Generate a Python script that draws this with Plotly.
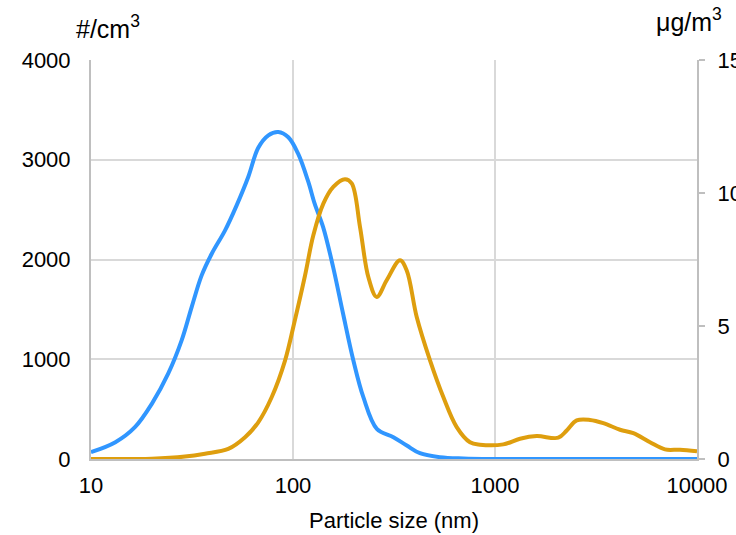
import plotly.graph_objects as go

# Number concentration (#/cm3) vs particle size (nm)
num_size = [10, 13.2, 16.5, 20, 24.1, 28.1, 31.5, 35.3, 39.6, 46.1, 52.6, 60.1, 67.3,
            75.5, 84.6, 94.8, 106, 119, 128, 141, 158, 177, 199, 223, 260, 314, 366,
            425, 534, 697, 1000, 2000, 5000, 10000]
num_conc = [68, 168, 319, 553, 855, 1189, 1523, 1841, 2058, 2292, 2543, 2830, 3120,
            3245, 3278, 3225, 3061, 2780, 2560, 2325, 1924, 1456, 988, 620, 303, 219, 135,
            58, 18, 5, 0, 0, 0, 0]

# Mass concentration (ug/m3) vs particle size (nm)
mass_size = [10, 20, 29.2, 36.7, 47.8, 57.9, 67.3, 78.5, 91.3, 102, 114.7, 126, 141.3,
             158.3, 180.9, 195.3, 214.7, 236, 259.7, 291, 338.6, 365.6, 409.7, 476.8,
             554.8, 646.3, 751.9, 842.6, 1099, 1330, 1609, 2058, 2265, 2538, 2953, 3437,
             4158, 4838, 5852, 6943, 8236, 10000]
mass_conc = [0, 0.01, 0.09, 0.2, 0.38, 0.82, 1.38, 2.33, 3.7, 5.2, 6.9, 8.4, 9.6,
             10.23, 10.52, 10.36, 8.72, 6.84, 6.09, 6.72, 7.47, 7.09, 5.34, 3.71,
             2.33, 1.2, 0.63, 0.54, 0.55, 0.76, 0.86, 0.8, 1.07, 1.45, 1.47, 1.35,
             1.1, 0.97, 0.63, 0.36, 0.35, 0.29]

x_ticks = [10, 100, 1000, 10000]
x_tick_labels = ["10", "100", "1000", "10000"]
left_ticks = [0, 1000, 2000, 3000, 4000]
right_ticks = [0, 5, 10, 15]

FONT = "Liberation Sans, Arial, sans-serif"
BLUE = "rgb(48,150,255)"
ORANGE = "rgb(222,158,14)"
GRID = "#d9d9d9"
AXIS = "#bfbfbf"

fig = go.Figure()
fig.add_trace(go.Scatter(x=num_size, y=num_conc, mode="lines",
                         line=dict(color=BLUE, width=4, shape="spline", smoothing=1.0),
                         yaxis="y", showlegend=False, hoverinfo="skip"))
fig.add_trace(go.Scatter(x=mass_size, y=mass_conc, mode="lines",
                         line=dict(color=ORANGE, width=4, shape="spline", smoothing=1.0),
                         yaxis="y2", showlegend=False, hoverinfo="skip"))

fig.update_layout(
    width=736, height=535,
    margin=dict(l=91, r=39, t=60, b=76),
    paper_bgcolor="white", plot_bgcolor="white",
    font=dict(family=FONT, size=22, color="#000000"),
    xaxis=dict(type="log", range=[1, 4], tickvals=x_ticks, ticktext=x_tick_labels,
               showgrid=True, gridcolor=GRID, gridwidth=1.5,
               showline=True, linecolor=AXIS, linewidth=2,
               ticks="", ticklabelstandoff=6, automargin=False,
               zeroline=False,
               title=dict(text="Particle size (nm)", font=dict(size=22), standoff=15)),
    yaxis=dict(range=[0, 4000], tickvals=left_ticks,
               showgrid=True, gridcolor=GRID, gridwidth=1.5,
               showline=True, linecolor=AXIS, linewidth=2, automargin=False,
               ticks="", ticklabelstandoff=14, zeroline=False),
    yaxis2=dict(range=[0, 15], tickvals=right_ticks, overlaying="y", side="right",
                showgrid=False, showline=True, linecolor=AXIS, linewidth=2,
                ticks="outside", ticklen=6, tickcolor=AXIS, tickwidth=1.5,
                ticklabelstandoff=8, zeroline=False, automargin=False),
    annotations=[
        dict(text="#/cm<sup>3</sup>", x=108, y=27, xref="paper", yref="paper",
             showarrow=False, font=dict(size=25)),
        dict(text="μg/m<sup>3</sup>", x=689, y=20, xref="paper", yref="paper",
             showarrow=False, font=dict(size=25)),
    ],
)

# convert annotation pixel positions to paper coordinates
pw, ph = 736 - 91 - 39, 535 - 60 - 76
for a in fig.layout.annotations:
    px, py = a.x, a.y
    a.x = (px - 91) / pw
    a.y = 1 - (py - 60) / ph
    a.xanchor = "center"
    a.yanchor = "middle"

fig.write_html("out.html")
